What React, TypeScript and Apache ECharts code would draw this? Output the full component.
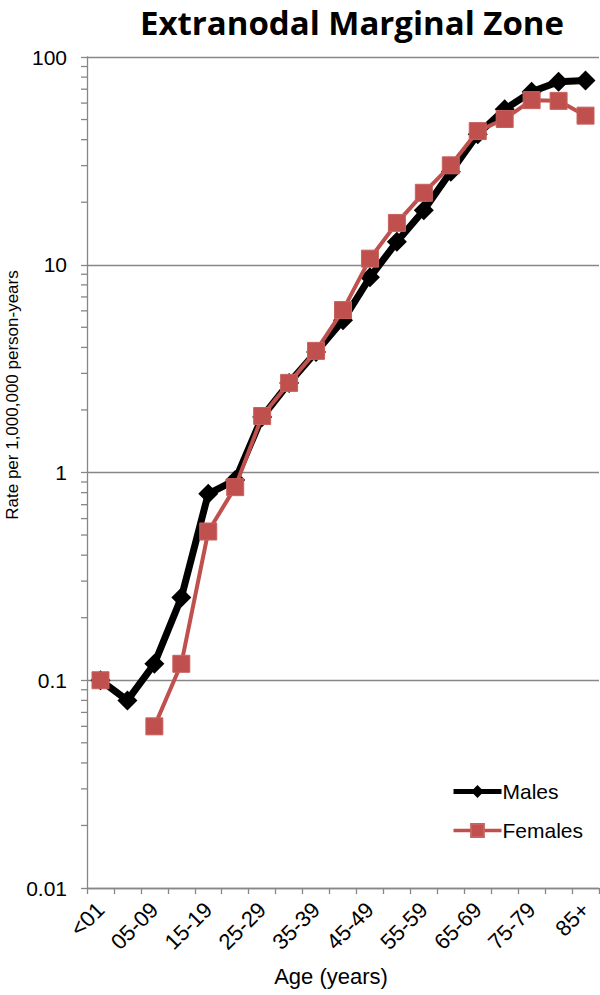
import React, { useEffect, useRef } from "react";
import * as echarts from "echarts";

const AGE_GROUPS = ["<01", "01-04", "05-09", "10-14", "15-19", "20-24", "25-29", "30-34", "35-39", "40-44", "45-49", "50-54", "55-59", "60-64", "65-69", "70-74", "75-79", "80-84", "85+"];
const MALES = [0.1, 0.08, 0.12, 0.25, 0.79, 0.92, 1.85, 2.7, 3.8, 5.4, 8.7, 12.9, 18.3, 28, 42.5, 56, 68, 76, 77];
const FEMALES: (number | null)[] = [0.1, null, 0.06, 0.12, 0.52, 0.85, 1.87, 2.7, 3.85, 6.05, 10.7, 15.9, 22.2, 30.1, 44, 50.3, 62, 61.5, 52.2];
const MINOR_TICKS = [0.02, 0.03, 0.04, 0.05, 0.06, 0.07, 0.08, 0.09, 0.2, 0.3, 0.4, 0.5, 0.6, 0.7, 0.8, 0.9, 2, 3, 4, 5, 6, 7, 8, 9, 20, 30, 40, 50, 60, 70, 80, 90];

const FONT = "'Liberation Sans', Arial, sans-serif";
const GREY = "#878787";
const RED = "#C0504D";

export default function App() {
  const ref = useRef<HTMLDivElement>(null);
  useEffect(() => {
    if (!ref.current) return;
    const chart = echarts.init(ref.current, null, { renderer: "svg" });
    chart.setOption({
      animation: false,
      backgroundColor: "#fff",
      textStyle: { fontFamily: FONT },
      grid: { left: 87, right: 1, top: 57, bottom: 107 },
      legend: {
        data: [
          { name: "Males", lineStyle: { width: 5, color: "#000" }, itemStyle: { color: "#000" } },
          { name: "Females", lineStyle: { width: 3.5, color: RED }, itemStyle: { color: RED } },
        ],
        orient: "vertical",
        left: 446,
        top: 776,
        padding: 5,
        itemWidth: 48,
        itemHeight: 16,
        itemGap: 18,
        textStyle: { fontSize: 21, color: "#000", fontFamily: FONT, padding: [0, 0, 0, -4] },
      },
      graphic: [
        {
          type: "text",
          x: 352,
          y: 22,
          style: {
            text: "Extranodal Marginal Zone",
            font: "bold 33px 'Open Sans', sans-serif",
            fill: "#000",
            textAlign: "center",
            textVerticalAlign: "middle",
          },
        },
        {
          type: "text",
          x: 12,
          y: 395,
          rotation: Math.PI / 2,
          style: {
            text: "Rate per 1,000,000 person-years",
            font: "17px 'Liberation Sans', Arial, sans-serif",
            fill: "#000",
            textAlign: "center",
            textVerticalAlign: "middle",
          },
        },
        {
          type: "text",
          x: 331,
          y: 976,
          style: {
            text: "Age (years)",
            font: "22px 'Liberation Sans', Arial, sans-serif",
            fill: "#000",
            textAlign: "center",
            textVerticalAlign: "middle",
          },
        },
      ],
      xAxis: {
        type: "category",
        data: AGE_GROUPS,
        boundaryGap: true,
        axisLine: { lineStyle: { color: GREY, width: 1.3 } },
        axisTick: { show: true, interval: 0, length: 6, lineStyle: { color: GREY, width: 1.3 } },
        axisLabel: { interval: 1, rotate: 45, fontSize: 22, color: "#000", fontFamily: FONT, margin: 18 },
        splitLine: { show: false },
      },
      yAxis: {
        type: "log",
        logBase: 10,
        min: 0.01,
        max: 100,
        axisLine: { show: true, lineStyle: { color: GREY, width: 1.3 } },
        axisTick: { show: true, length: 6, lineStyle: { color: GREY, width: 1.3 } },
        axisLabel: { fontSize: 21, color: "#000", fontFamily: FONT, margin: 20, formatter: (v: number) => String(v) },
        splitLine: { show: true, lineStyle: { color: GREY, width: 1.3 } },
      },
      series: [
        {
          type: "custom",
          name: "minorTicks",
          silent: true,
          clip: false,
          data: MINOR_TICKS.map((v) => [0, v]),
          encode: { x: 0, y: 1 },
          renderItem: (params: any, api: any) => {
            const p = api.coord([0, api.value(1)]);
            const half = api.size([1, 0])[0] / 2;
            const x0 = p[0] - half;
            return {
              type: "line",
              shape: { x1: x0 - 6, y1: p[1], x2: x0, y2: p[1] },
              style: { stroke: GREY, lineWidth: 1.3 },
            };
          },
          z: 1,
        },
        {
          name: "Males",
          type: "line",
          data: MALES,
          symbol: "diamond",
          symbolSize: 20,
          showAllSymbol: true,
          lineStyle: { color: "#000", width: 7 },
          itemStyle: { color: "#000" },
          z: 3,
        },
        {
          name: "Females",
          type: "line",
          data: FEMALES,
          connectNulls: false,
          symbol: "rect",
          symbolSize: 17,
          showAllSymbol: true,
          lineStyle: { color: RED, width: 4 },
          itemStyle: { color: RED, borderColor: "#C9625F", borderWidth: 1 },
          z: 4,
        },
      ],
    });
    return () => chart.dispose();
  }, []);
  return <div ref={ref} style={{ position: "fixed", left: 0, top: 0, width: 600, height: 995 }} />;
}
